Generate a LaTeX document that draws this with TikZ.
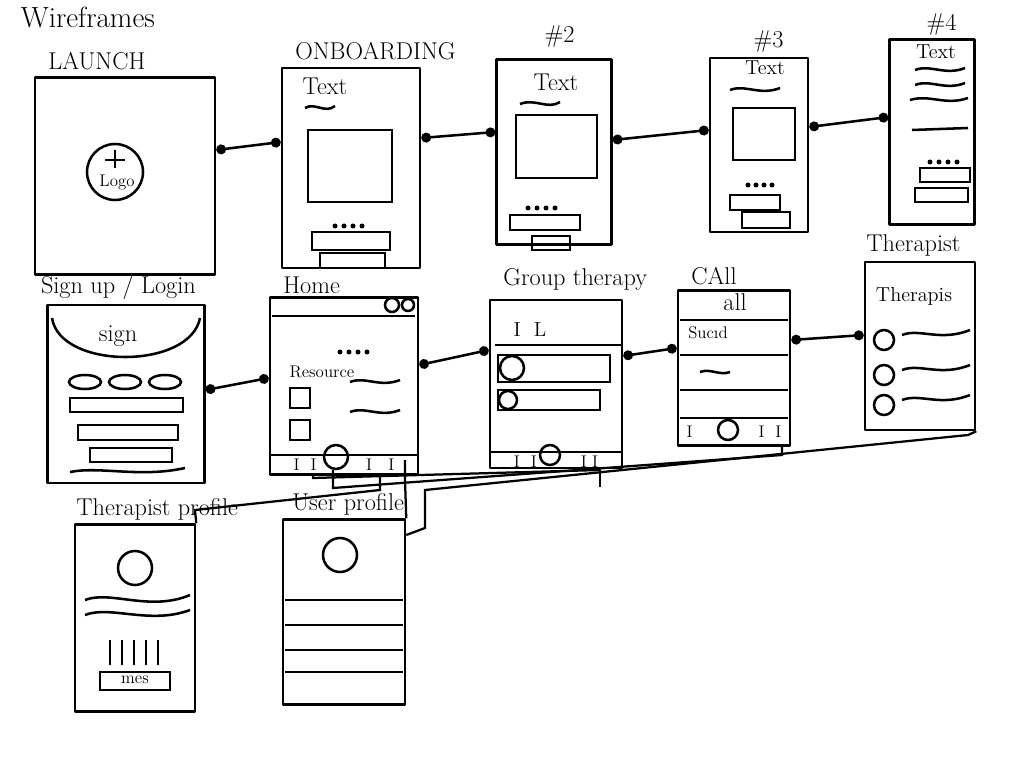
\documentclass[tikz,border=0pt]{standalone}
\usetikzlibrary{arrows.meta}
\tikzset{
  every picture/.style={line width=1.8pt},
  screen/.style={draw, line join=round},
  link/.style={{Circle[length=7pt]}-{Circle[length=7pt]}},
  wire/.style={line width=1.6pt},
  title/.style={font=\LARGE, anchor=south west, inner sep=1pt},
  squig/.style={},
}
\begin{document}
\begin{tikzpicture}[x=0.25mm, y=-0.25mm]
  \useasboundingbox[fill=white] (0,0) rectangle (1024,758);
  \node[font=\huge, anchor=west] (head) at (15,18) {Wireframes};

  % Screens
  \node[screen, minimum width=45mm, minimum height=49.2mm] (launch) at (125,176) {};
  \node[screen, minimum width=34.5mm, minimum height=50mm] (onb) at (351,168) {};
  \node[screen, minimum width=28.7mm, minimum height=46.2mm] (two) at (554,152) {};
  \node[screen, minimum width=24.5mm, minimum height=43.5mm] (three) at (759,145) {};
  \node[screen, minimum width=21.2mm, minimum height=46.2mm] (four) at (932,132) {};
  \node[screen, minimum width=39.2mm, minimum height=44.5mm] (sign) at (126,394) {};
  \node[screen, minimum width=37mm, minimum height=44.2mm] (home) at (344,386) {};
  \node[screen, minimum width=33mm, minimum height=42mm] (group) at (556,384) {};
  \node[screen, minimum width=28mm, minimum height=38.7mm] (call) at (734,368) {};
  \node[screen, minimum width=27.5mm, minimum height=42mm] (ther) at (920,346) {};
  \node[screen, minimum width=30mm, minimum height=46.7mm] (tprof) at (135,618) {};
  \node[screen, minimum width=30.5mm, minimum height=46.2mm] (uprof) at (344,612) {};

  % Titles
  \node[title] at (launch.north west) [xshift=3mm, yshift=1mm] {LAUNCH};
  \node[title] at (onb.north west) [xshift=3mm, yshift=1mm] {ONBOARDING};
  \node[title] at (two.north) [xshift=-3mm, yshift=2mm] {\#2};
  \node[title] at (three.north) [xshift=-2mm, yshift=0.5mm] {\#3};
  \node[title] at (four.north) [xshift=-2mm, yshift=0mm] {\#4};
  \node[title] at (sign.north west) [xshift=-2mm, yshift=0.5mm] {Sign up / Login};
  \node[title] at (home.north west) [xshift=3mm] {Home};
  \node[title] at (group.north west) [xshift=3mm, yshift=1.5mm] {Group therapy};
  \node[title] at (call.north west) [xshift=3mm, yshift=0.5mm] {CAll};
  \node[title] at (ther.north west) [xshift=0mm, yshift=0.5mm] {Therapist};
  \node[title] at (tprof.north west) [xshift=0mm] {Therapist profile};
  \node[title] at (uprof.north west) [xshift=2mm] {User profile};

  % Launch content
  \draw (115,172) circle (28);
  \node[font=\large] (logo) at (117,182) {Logo};
  \draw (105,160) -- (125,160) (115,150) -- (115,168);

  % Onboarding content
  \node[font=\LARGE] (ot) at (325,86) {Text};
  \draw[squig] (305,108) .. controls (315,102) and (325,114) .. (335,106);
  \draw (308,130) rectangle (392,202);
  \foreach \i in {0,...,3} \fill (335+\i*9,226) circle (2.5);
  \draw (312,232) rectangle (390,250);
  \draw (320,253) rectangle (385,268);

  % #2 content
  \node[font=\LARGE] (tt) at (556,82) {Text};
  \draw[squig] (520,104) .. controls (535,98) and (548,110) .. (560,102);
  \draw (516,115) rectangle (597,178);
  \foreach \i in {0,...,3} \fill (528+\i*9,208) circle (2.5);
  \draw (510,215) rectangle (580,230);
  \draw (532,236) rectangle (570,250);

  % #3 content
  \node[font=\Large] (t3) at (765,68) {Text};
  \draw[squig] (730,90) .. controls (745,84) and (760,96) .. (780,88);
  \draw (733,108) rectangle (795,160);
  \foreach \i in {0,...,3} \fill (748+\i*8,185) circle (2.5);
  \draw (730,195) rectangle (780,210);
  \draw (742,212) rectangle (790,228);

  % #4 content
  \node[font=\Large] (t4) at (936,52) {Text};
  \draw[squig] (915,70) .. controls (930,64) and (945,76) .. (965,68);
  \draw[squig] (915,85) .. controls (930,79) and (945,91) .. (965,83);
  \draw[squig] (910,100) .. controls (930,94) and (945,106) .. (968,98);
  \draw (912,130) -- (968,128);
  \foreach \i in {0,...,3} \fill (930+\i*9,162) circle (2.5);
  \draw (920,168) rectangle (970,182);
  \draw (915,188) rectangle (968,202);

  % Sign up content
  \node[font=\LARGE] (sg) at (118,336) {sign};
  \draw (52,318) .. controls (60,370) and (190,370) .. (200,318);
  \foreach \i in {0,...,2} \draw (85+\i*40,382) ellipse (16 and 7);
  \draw (70,398) rectangle (183,412);
  \draw (78,425) rectangle (178,440);
  \draw (90,448) rectangle (172,462);
  \draw[squig] (70,472) .. controls (100,466) and (140,478) .. (185,468);

  % Home content
  \draw (272,316) -- (415,316);
  \draw (392,305) circle (7) (408,305) circle (6);
  \foreach \i in {0,...,3} \fill (340+\i*9,352) circle (2.5);
  \node[font=\large] (res) at (322,372) {Resource};
  \draw (290,388) rectangle (310,408);
  \draw (290,420) rectangle (310,440);
  \draw[squig] (350,382) .. controls (365,376) and (380,388) .. (400,380);
  \draw[squig] (350,412) .. controls (365,406) and (380,418) .. (400,410);
  \draw (270,455) -- (418,455);
  \draw (336,457) circle (12);
  \node[font=\large] (hbar) at (344,465) {I\ \ I\ \ \ \ \ \ \ \ \ I\ \ \ I};

  % Group therapy content
  \node[font=\Large] (gl) at (530,330) {I\ \ L};
  \draw (495,345) -- (622,345);
  \draw (498,355) rectangle (610,382);
  \draw (512,368) circle (12);
  \draw (498,390) rectangle (600,410);
  \draw (508,400) circle (9);
  \draw (490,452) -- (622,452);
  \draw (550,455) circle (10);
  \node[font=\large] (gbar) at (556,462) {I\ \ I\ \ \ \ \ \ \ \ I\ I};

  % Call content
  \node[font=\LARGE] (ca) at (735,302) {all};
  \draw (680,320) -- (788,320);
  \node[font=\large] (su) at (708,333) {Suc\i d};
  \draw (680,355) -- (788,355);
  \draw[squig] (700,372) .. controls (710,368) and (720,376) .. (730,372);
  \draw (680,390) -- (788,390);
  \draw (680,418) -- (788,418);
  \draw (728,430) circle (10);
  \node[font=\large] (cbar) at (734,432) {I\ \ \ \ \ \ \ \ \ \ \ \ I\ \ I};

  % Therapist content
  \node[font=\Large] (tp) at (914,296) {Therapis};
  \foreach \y in {340,375,405} {
    \draw (884,\y) circle (10);
    \draw[squig] (902,\y-5) .. controls (920,\y-12) and (940,\y+2) .. (970,\y-10);
  }

  % Therapist profile content
  \draw (135,568) circle (17);
  \draw[squig] (85,600) .. controls (110,590) and (150,612) .. (190,595);
  \draw[squig] (85,615) .. controls (110,605) and (150,625) .. (190,610);
  \foreach \x in {110,122,134,146,158} \draw (\x,640) -- (\x,665);
  \draw (100,672) rectangle (170,690);
  \node[font=\large] (mes) at (135,680) {mes};

  % User profile content
  \draw (340,555) circle (17);
  \foreach \y in {600,625,650,672} \draw (285,\y) -- (403,\y);

  % Flow links
  \draw[link] (launch.east |- 0,150) -- (onb.west |- 0,142);
  \draw[link] (onb.east |- 0,138) -- (two.west |- 0,132);
  \draw[link] (two.east |- 0,140) -- (three.west |- 0,130);
  \draw[link] (three.east |- 0,127) -- (four.west |- 0,117);
  \draw[link] (sign.east |- 0,390) -- (home.west |- 0,378);
  \draw[link] (home.east |- 0,365) -- (group.west |- 0,350);
  \draw[link] (group.east |- 0,356) -- (call.west |- 0,348);
  \draw[link] (call.east |- 0,340) -- (ther.west |- 0,335);

  % Navigation wiring
  \draw[wire] (home.south -| 313,0) -- (313,478) -- (600,470) -- (group.south -| 600,0);
  \draw[wire] (333,470) -- (333,488) -- (782,455) -- (call.south -| 782,0);
  \draw[wire] (600,470) -- (600,487);
  \draw[wire] (ther.south east) -- (968,435) -- (425,490) -- (425,528) -- (uprof.east |- 0,535);
  \draw[wire] (home.south -| 380,0) -- (380,490) -- (195,510) -- (tprof.north east);
  \draw[wire] (uprof.north east) -- (405,480) -- (405,460);
\end{tikzpicture}
\end{document}
